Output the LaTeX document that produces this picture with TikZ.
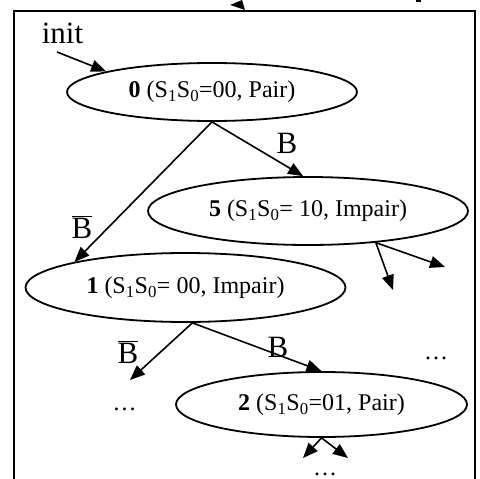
\documentclass[tikz,border=0pt]{standalone}
\usepackage{fontspec}
\setmainfont{Liberation Serif}
\usetikzlibrary{shapes.geometric,arrows.meta}
\begin{document}
\begin{tikzpicture}[x=1pt,y=-1pt,
  st/.style={ellipse,draw,line width=1.8pt,inner sep=0pt,font=\fontsize{24}{28}\selectfont},
  lbl/.style={font=\fontsize{31}{36}\selectfont,inner sep=0pt,anchor=base},
  dts/.style={font=\fontsize{24}{28}\selectfont,inner sep=0pt,anchor=base},
  tr/.style={line width=1.6pt,-{Triangle[length=15pt,width=12pt]}}]
\useasboundingbox (0,0) rectangle (480,479);
\clip (0,0) rectangle (480,479);
% frame and cut-off fragments at the top
\draw[line width=1.8pt] (14,11) rectangle (475,500);
\fill (230,5) -- (242,0) -- (245,10) -- cycle;
\fill (416,0) rectangle (421,1.7);
% states
\node[st,minimum width=290pt,minimum height=58pt] (s0) at (212,92)
  {\textbf{0} (S\textsubscript{1}S\textsubscript{0}=00, Pair)\hspace{17pt}};
\node[st,minimum width=320pt,minimum height=68pt] (s5) at (308,211)
  {\textbf{5} (S\textsubscript{1}S\textsubscript{0}= 10, Impair)\hspace{7pt}};
\node[st,minimum width=320pt,minimum height=69pt] (s1) at (185.5,287.5)
  {\textbf{1} (S\textsubscript{1}S\textsubscript{0}= 00, Impair)};
\node[st,minimum width=291pt,minimum height=65pt] (s2) at (321.5,404.5)
  {\textbf{2} (S\textsubscript{1}S\textsubscript{0}=01, Pair)\hspace{10pt}};
% init
\node[lbl] (init) at (62.5,43) {init};
\coordinate (i0) at (57,52);
\draw[tr] (i0) -- (s0.169);
% transitions
\draw[tr] (s0.south) -- (s1.167);
\draw[tr] (s0.south) -- (s5.98);
\coordinate (c5a) at (393,290);
\coordinate (c5b) at (445,267);
\draw[tr] (s5.-25.5) -- (c5a);
\draw[tr] (s5.-25.5) -- (c5b);
\coordinate (c1a) at (130,380);
\draw[tr] (s1.-79) -- (c1a);
\draw[tr] (s1.-79) -- (s2.north);
\coordinate (c2a) at (303,458);
\coordinate (c2b) at (348,458);
\draw[tr] (s2.south) -- (c2a);
\draw[tr] (s2.south) -- (c2b);
% labels
\node[lbl] (lB1) at (287,153) {B};
\node[lbl] (lnB1) at (82,238) {$\overline{\mbox{B}}$};
\node[lbl] (lnB2) at (128,363) {$\overline{\mbox{B}}$};
\node[lbl] (lB2) at (278,357) {B};
% continuation dots
\node[dts] (d1) at (124.5,410) {\ldots};
\node[dts] (d2) at (436,359) {\ldots};
\node[dts] (d3) at (325,475) {\ldots};
\end{tikzpicture}
\end{document}
